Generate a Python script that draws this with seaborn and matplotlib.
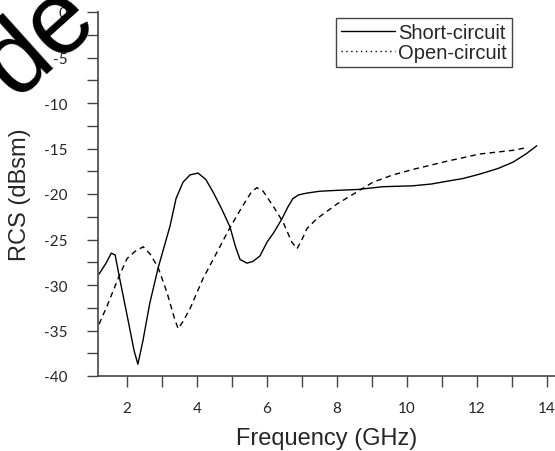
import numpy as np
import pandas as pd
import matplotlib
matplotlib.use("Agg")
import matplotlib.pyplot as plt
from matplotlib.lines import Line2D
import seaborn as sns

# -----------------------------
# data
# -----------------------------
freq_short = [1.20, 1.40, 1.55, 1.66, 1.80, 2.00, 2.20, 2.31, 2.45, 2.65, 2.89,
              3.23, 3.40, 3.60, 3.80, 4.03, 4.25, 4.46, 4.70, 4.94, 5.10, 5.23,
              5.43, 5.60, 5.80, 6.00, 6.20, 6.43, 6.60, 6.74, 6.90, 7.14, 7.50,
              8.00, 8.60, 9.31, 10.17, 10.70, 11.14, 11.60, 12.09, 12.60, 13.03,
              13.40, 13.71]
rcs_short = [-28.8, -27.6, -26.5, -26.7, -29.5, -33.3, -37.2, -38.7, -36.2, -32.0, -28.1,
             -23.5, -20.5, -18.7, -17.9, -17.7, -18.4, -19.8, -21.6, -23.6, -25.8, -27.2,
             -27.6, -27.4, -26.8, -25.3, -24.2, -22.7, -21.4, -20.5, -20.1, -19.9, -19.7,
             -19.6, -19.5, -19.2, -19.1, -18.9, -18.6, -18.3, -17.8, -17.2, -16.5,
             -15.6, -14.7]

freq_open = [1.20, 1.43, 1.66, 1.80, 2.00, 2.23, 2.46, 2.66, 2.89, 3.14, 3.35,
             3.46, 3.60, 3.80, 4.17, 4.57, 4.94, 5.29, 5.55, 5.71, 5.89, 6.17,
             6.46, 6.71, 6.86, 7.00, 7.14, 7.43, 8.00, 8.60, 9.03, 9.60, 10.17,
             11.14, 12.09, 13.03, 13.43]
rcs_open = [-34.3, -32.3, -30.1, -28.8, -27.1, -26.3, -25.8, -26.6, -28.1, -30.8, -33.6,
            -34.8, -34.0, -32.6, -29.3, -26.4, -23.7, -21.4, -19.8, -19.3, -19.7, -21.3,
            -23.1, -25.3, -26.0, -25.0, -23.8, -22.7, -21.1, -19.7, -18.7, -17.9, -17.3,
            -16.4, -15.6, -15.2, -14.9]

x_ticks = [2, 4, 6, 8, 10, 12, 14]
y_ticks = [-40, -35, -30, -25, -20, -15, -10, -5, 0]
series_labels = ["Short-circuit", "Open-circuit"]

df_short = pd.DataFrame({"freq": freq_short, "rcs": rcs_short})
df_open = pd.DataFrame({"freq": freq_open, "rcs": rcs_open})

# -----------------------------
# plot
# -----------------------------
sns.set_style("ticks")
plt.rcParams['font.family'] = ['Liberation Sans', 'DejaVu Sans']

fig = plt.figure(figsize=(5.55, 4.52), dpi=100)
ax = fig.add_axes([98 / 555, 75 / 452, 457 / 555, 364 / 452])

sns.lineplot(data=df_short, x="freq", y="rcs", ax=ax, color="black", lw=1.0)
sns.lineplot(data=df_open, x="freq", y="rcs", ax=ax, color="black", lw=1.0,
             linestyle=(0, (4, 3)))

ax.set_xlim(1.17, 14.23)
ax.set_ylim(-40, 0)
ax.set_xticks(x_ticks)
ax.set_xticks(np.arange(3, 15, 2), minor=True)
ax.set_yticks(y_ticks)
ax.set_yticks(np.arange(-37.5, 0, 5), minor=True)
ax.set_xticklabels([str(t) for t in x_ticks], fontfamily="Lato", fontsize=11)
ax.set_yticklabels([str(t) for t in y_ticks], fontfamily="Lato", fontsize=11)
ax.tick_params(which="both", direction="out", length=8, width=1, color="#444444")
ax.tick_params(axis="x", which="major", pad=10)
ax.tick_params(axis="y", which="major", pad=14)

for side in ["top", "right"]:
    ax.spines[side].set_visible(False)
for side in ["left", "bottom"]:
    ax.spines[side].set_color("#444444")
    ax.spines[side].set_linewidth(1.2)

ax.set_xlabel("Frequency (GHz)", fontsize=17, labelpad=9)
ax.set_ylabel("RCS (dBsm)", fontsize=17, labelpad=9)

handles = [Line2D([], [], color="black", lw=1.0),
           Line2D([], [], color="black", lw=1.0, linestyle=(0, (1, 2.5)))]
leg = ax.legend(handles, series_labels, loc="upper right",
                bbox_to_anchor=(0.906, 0.983), borderaxespad=0, fancybox=False,
                fontsize=14.5, handlelength=2.7, handletextpad=0.15,
                labelspacing=0.02, borderpad=0.25, framealpha=1)
leg.get_frame().set_edgecolor("#444444")
leg.get_frame().set_linewidth(1.0)

# big watermark fragment at the top left
fig.text(57 / 555, 1 - 61 / 452, "de", fontsize=74, rotation=42,
         ha="center", va="baseline", rotation_mode="anchor", color="black")

fig.savefig("out.png", dpi=100)
